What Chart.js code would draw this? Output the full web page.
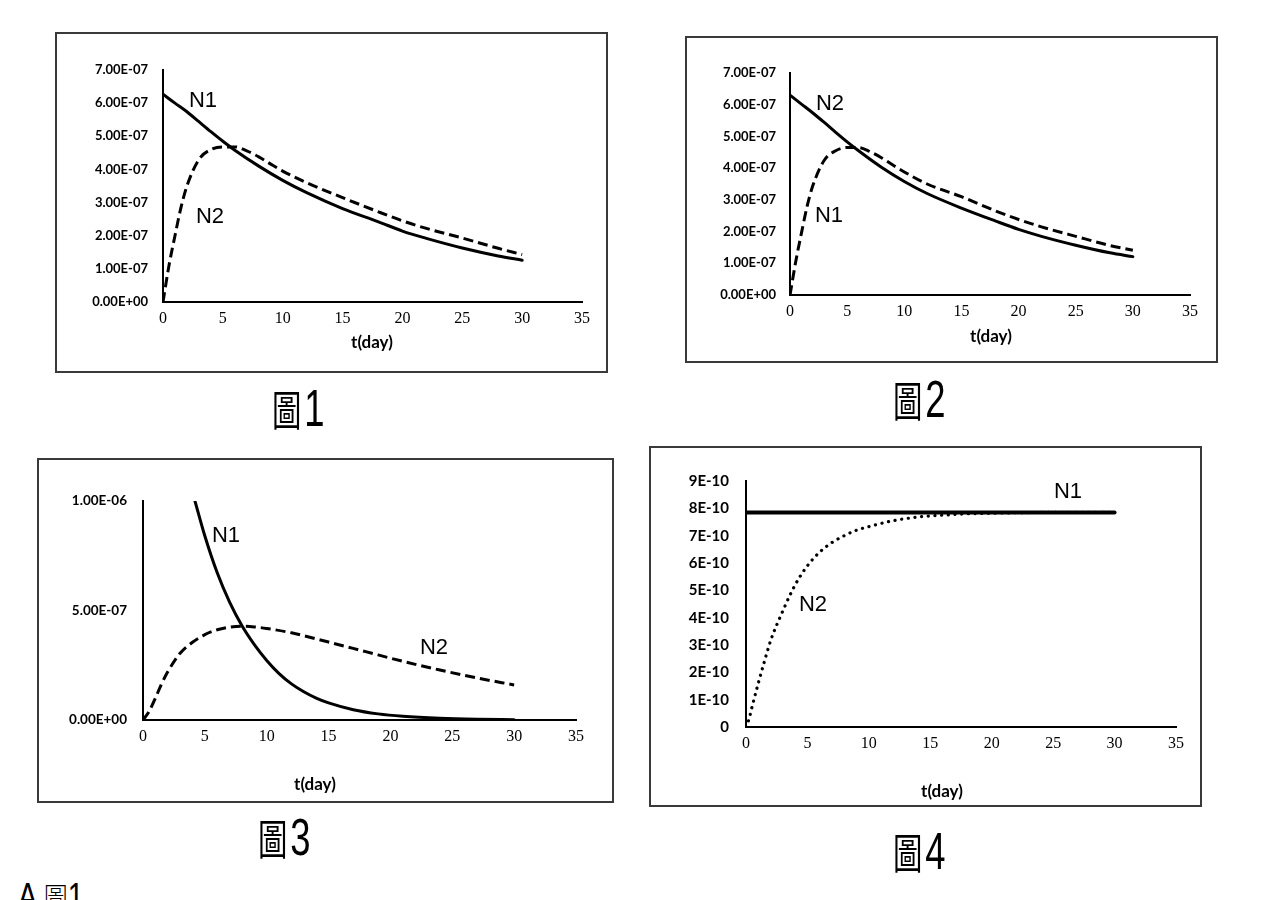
<!DOCTYPE html>
<html><head><meta charset="utf-8">
<script src="https://cdn.jsdelivr.net/npm/chart.js@4.4.1/dist/chart.umd.min.js"></script>
<style>
html,body{margin:0;padding:0;background:#fff;width:1276px;height:900px;overflow:hidden;position:relative;}
.box{position:absolute;border:2px solid #3a3a3a;box-sizing:border-box;}
canvas{position:absolute;}
.lbl{position:absolute;font-family:"Liberation Sans",Arial,sans-serif;font-size:22px;color:#000;transform:translate(-50%,-50%);white-space:nowrap;line-height:1;}
.xt{position:absolute;font-family:Lato,"Open Sans",sans-serif;font-weight:700;font-size:17px;color:#000;transform:translate(-50%,-50%);white-space:nowrap;line-height:1;}
.cap{position:absolute;transform-origin:left top;transform:scaleX(0.7);white-space:nowrap;line-height:1;color:#000;}
.cap .k{font-family:"Noto Sans CJK TC","Noto Sans CJK SC",sans-serif;font-weight:400;font-size:42px;}
.cap .n{font-family:"Liberation Sans",Arial,sans-serif;font-size:52px;margin-left:4px;}
</style></head>
<body>
<div class="box" style="left:55px;top:32px;width:553px;height:341px"></div>
<div class="box" style="left:685px;top:36px;width:533px;height:327px"></div>
<div class="box" style="left:37px;top:458px;width:577px;height:345px"></div>
<div class="box" style="left:649px;top:446px;width:553px;height:361px"></div>

<canvas id="c1" width="553" height="341" style="left:55px;top:32px"></canvas>
<canvas id="c2" width="533" height="327" style="left:685px;top:36px"></canvas>
<canvas id="c3" width="577" height="345" style="left:37px;top:458px"></canvas>
<canvas id="c4" width="553" height="361" style="left:649px;top:446px"></canvas>

<div class="lbl" style="left:203px;top:100px">N1</div>
<div class="lbl" style="left:210px;top:216px">N2</div>
<div class="xt" style="left:372px;top:341px">t(day)</div>

<div class="lbl" style="left:830px;top:103px">N2</div>
<div class="lbl" style="left:829px;top:215px">N1</div>
<div class="xt" style="left:991px;top:335px">t(day)</div>

<div class="lbl" style="left:226px;top:535px">N1</div>
<div class="lbl" style="left:434px;top:647px">N2</div>
<div class="xt" style="left:315px;top:783px">t(day)</div>

<div class="lbl" style="left:1068px;top:491px">N1</div>
<div class="lbl" style="left:813px;top:604px">N2</div>
<div class="xt" style="left:942px;top:790px">t(day)</div>

<div class="cap" style="left:272px;top:382px"><span class="k">圖</span><span class="n">1</span></div>
<div class="cap" style="left:893px;top:373px"><span class="k">圖</span><span class="n">2</span></div>
<div class="cap" style="left:258px;top:811px"><span class="k">圖</span><span class="n">3</span></div>
<div class="cap" style="left:893px;top:825px"><span class="k">圖</span><span class="n">4</span></div>
<div class="cap" style="left:18px;top:879px;transform:scaleX(0.8)"><span class="n" style="font-size:36px;margin-left:0">A </span><span class="k" style="font-size:30px;font-weight:300">圖</span><span class="n" style="font-size:36px;margin-left:0">1</span></div>

<script>
// ---- tick values / labels ----
const xTickValues = [0, 5, 10, 15, 20, 25, 30, 35];
const xTickLabels = ['0', '5', '10', '15', '20', '25', '30', '35'];

const yTicksA = [0, 1e-7, 2e-7, 3e-7, 4e-7, 5e-7, 6e-7, 7e-7];
const yLabelsA = ['0.00E+00', '1.00E-07', '2.00E-07', '3.00E-07', '4.00E-07', '5.00E-07', '6.00E-07', '7.00E-07'];
const yTicks3 = [0, 5e-7, 1e-6];
const yLabels3 = ['0.00E+00', '5.00E-07', '1.00E-06'];
const yTicks4 = [0, 1e-10, 2e-10, 3e-10, 4e-10, 5e-10, 6e-10, 7e-10, 8e-10, 9e-10];
const yLabels4 = ['0', '1E-10', '2E-10', '3E-10', '4E-10', '5E-10', '6E-10', '7E-10', '8E-10', '9E-10'];

// ---- 圖1 ----
const p1SolidT = [0, 1, 2, 3, 4, 5, 6, 8, 10, 12, 15, 18, 20, 22, 25, 28, 30];
const p1N1 = [6.27e-7, 6.00e-7, 5.74e-7, 5.44e-7, 5.14e-7, 4.85e-7, 4.58e-7, 4.10e-7, 3.67e-7, 3.30e-7, 2.82e-7, 2.42e-7, 2.14e-7, 1.92e-7, 1.63e-7, 1.39e-7, 1.26e-7];
const p1DashT = [0, 0.5, 1, 1.5, 2, 3, 4, 5, 6, 7, 8, 9, 10, 12, 15, 18, 20, 22, 25, 28, 30];
const p1N2 = [0, 1.1e-7, 2.0e-7, 2.85e-7, 3.5e-7, 4.3e-7, 4.6e-7, 4.68e-7, 4.68e-7, 4.56e-7, 4.38e-7, 4.16e-7, 3.95e-7, 3.6e-7, 3.15e-7, 2.72e-7, 2.45e-7, 2.22e-7, 1.93e-7, 1.62e-7, 1.43e-7];

// ---- 圖2 ----
const p2SolidT = [0, 1, 2, 3, 4, 5, 6, 8, 10, 12, 15, 18, 20, 22, 25, 28, 30];
const p2N2 = [6.30e-7, 6.02e-7, 5.74e-7, 5.44e-7, 5.13e-7, 4.83e-7, 4.55e-7, 4.03e-7, 3.58e-7, 3.20e-7, 2.74e-7, 2.33e-7, 2.07e-7, 1.85e-7, 1.57e-7, 1.33e-7, 1.21e-7];
const p2DashT = [0, 0.5, 1, 1.5, 2, 3, 4, 5, 6, 7, 8, 9, 10, 12, 15, 18, 20, 22, 25, 28, 30];
const p2N1 = [0, 1.05e-7, 1.95e-7, 2.8e-7, 3.45e-7, 4.25e-7, 4.55e-7, 4.65e-7, 4.65e-7, 4.52e-7, 4.33e-7, 4.1e-7, 3.88e-7, 3.5e-7, 3.1e-7, 2.65e-7, 2.38e-7, 2.15e-7, 1.85e-7, 1.56e-7, 1.41e-7];

// ---- 圖3 ----
const p3SolidT = [4.2, 5, 6, 7, 8, 9, 10, 11, 12, 13, 14, 15, 17, 19, 21, 24, 27, 30];
const p3N1 = [1.0e-6, 8.4e-7, 6.72e-7, 5.38e-7, 4.3e-7, 3.44e-7, 2.72e-7, 2.12e-7, 1.65e-7, 1.29e-7, 1.0e-7, 7.8e-8, 4.7e-8, 2.8e-8, 1.7e-8, 8e-9, 3.5e-9, 1.5e-9];
const p3DashT = [0, 0.5, 1, 1.5, 2, 3, 4, 5, 6, 7, 8, 9, 10, 12, 15, 18, 21, 24, 27, 30];
const p3N2 = [0, 4e-8, 1.0e-7, 1.65e-7, 2.2e-7, 3.05e-7, 3.55e-7, 3.9e-7, 4.12e-7, 4.24e-7, 4.28e-7, 4.25e-7, 4.18e-7, 3.98e-7, 3.56e-7, 3.12e-7, 2.68e-7, 2.28e-7, 1.92e-7, 1.6e-7];

// ---- 圖4 ----
const p4SolidT = [0, 5, 10, 15, 20, 25, 30];
const p4N1 = [7.85e-10, 7.85e-10, 7.85e-10, 7.85e-10, 7.85e-10, 7.85e-10, 7.85e-10];
const p4DotT = [0, 0.25, 0.5, 1, 1.5, 2, 3, 4, 5, 6, 7, 8, 9, 10, 12, 14, 16, 18, 20, 22, 25, 28, 30];
const p4N2 = [0, 3e-11, 7.5e-11, 1.6e-10, 2.4e-10, 3.15e-10, 4.25e-10, 5.2e-10, 5.9e-10, 6.4e-10, 6.75e-10, 7.0e-10, 7.2e-10, 7.33e-10, 7.55e-10, 7.68e-10, 7.75e-10, 7.8e-10, 7.82e-10, 7.84e-10, 7.85e-10, 7.85e-10, 7.85e-10];

function pts(ts, vs) { return ts.map((t, i) => ({ x: t, y: vs[i] })); }

function solid(label, ts, vs, w) {
  return { label, data: pts(ts, vs), borderColor: '#000', borderWidth: w || 3, pointRadius: 0,
           fill: false, cubicInterpolationMode: 'monotone', borderCapStyle: 'round' };
}
function dashed(label, ts, vs) {
  return { label, data: pts(ts, vs), borderColor: '#000', borderWidth: 3, pointRadius: 0,
           fill: false, cubicInterpolationMode: 'monotone', borderDash: [10, 5] };
}
function dotted(label, ts, vs) {
  return { label, data: pts(ts, vs), borderColor: '#000', borderWidth: 3.2, pointRadius: 0,
           fill: false, cubicInterpolationMode: 'monotone', borderDash: [0.1, 6.6], borderCapStyle: 'round' };
}

function makeChart(id, c) {
  return new Chart(document.getElementById(id), {
    type: 'line',
    data: { datasets: c.datasets },
    options: {
      responsive: false, animation: false, events: [],
      layout: { padding: c.pad },
      plugins: { legend: { display: false }, tooltip: { enabled: false }, title: { display: false } },
      scales: {
        x: {
          type: 'linear', min: 0, max: 35,
          afterBuildTicks: s => { s.ticks = xTickValues.map(v => ({ value: v })); },
          afterFit: s => { s.height = 30; },
          grid: { display: false, drawTicks: false },
          border: { display: true, color: '#000', width: 2 },
          ticks: { padding: 7, color: '#000', autoSkip: false, maxRotation: 0,
                   font: { family: '"Liberation Serif", "DejaVu Serif", serif', size: 16 },
                   callback: (v, i) => xTickLabels[i] }
        },
        y: {
          type: 'linear', min: 0, max: c.ymax,
          afterBuildTicks: s => { s.ticks = c.yTicks.map(v => ({ value: v })); },
          afterFit: s => { s.width = 80; },
          grid: { display: false, drawTicks: false },
          border: { display: true, color: '#000', width: 2 },
          ticks: { padding: c.ypad, color: '#000', autoSkip: false,
                   font: { family: 'Lato, "Open Sans", sans-serif', size: c.yfs, weight: 'bold' },
                   callback: (v, i) => c.yLabels[i] }
        }
      }
    }
  });
}

makeChart('c1', {
  datasets: [solid('N1', p1SolidT, p1N1), dashed('N2', p1DashT, p1N2)],
  pad: { left: 28, top: 38, right: 26, bottom: 41 },
  ymax: 7e-7, yTicks: yTicksA, yLabels: yLabelsA, ypad: 15, yfs: 13
});
makeChart('c2', {
  datasets: [solid('N2', p2SolidT, p2N2), dashed('N1', p2DashT, p2N1)],
  pad: { left: 25, top: 37, right: 28, bottom: 38 },
  ymax: 7e-7, yTicks: yTicksA, yLabels: yLabelsA, ypad: 14, yfs: 13
});
makeChart('c3', {
  datasets: [solid('N1', p3SolidT, p3N1), dashed('N2', p3DashT, p3N2)],
  pad: { left: 26, top: 43, right: 38, bottom: 53 },
  ymax: 1e-6, yTicks: yTicks3, yLabels: yLabels3, ypad: 16, yfs: 13.5
});
makeChart('c4', {
  datasets: [solid('N1', p4SolidT, p4N1, 4), dotted('N2', p4DotT, p4N2)],
  pad: { left: 17, top: 35, right: 26, bottom: 50 },
  ymax: 9e-10, yTicks: yTicks4, yLabels: yLabels4, ypad: 17, yfs: 15
});
</script>
</body></html>
